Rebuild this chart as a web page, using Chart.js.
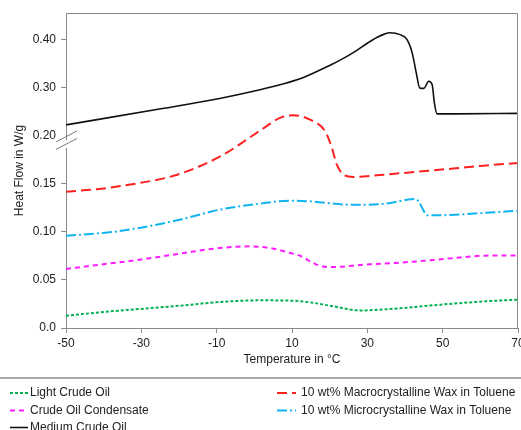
<!DOCTYPE html>
<html>
<head>
<meta charset="utf-8">
<script src="https://cdn.jsdelivr.net/npm/chart.js@4/dist/chart.umd.min.js"></script>
<style>
  html, body { margin: 0; padding: 0; background: #fff; }
  #wrap { width: 521px; height: 430px; position: relative; }
</style>
</head>
<body>
<div id="wrap"><canvas id="c" width="521" height="430"></canvas></div>
<script>
// DSC heat-flow curves (W/g) versus temperature (°C)
const lightT  = [-50, -41.1, -30.5, -19.8, -9.2, 1.5, 10.3, 14.8, 20.1, 28.1, 36.1, 49.4, 60.9, 70];
const lightHF = [0.0128, 0.0163, 0.0198, 0.0232, 0.0271, 0.0288, 0.0284, 0.0267, 0.0232, 0.0183, 0.0198, 0.0243, 0.0277, 0.0295];

const condT  = [-50, -41.1, -30.5, -19.8, -9.2, -1.2, 4.1, 9.5, 12.1, 14.8, 17.4, 20.1, 30.7, 41.4, 52.0, 60.9, 70];
const condHF = [0.0615, 0.0659, 0.0711, 0.0774, 0.0833, 0.0850, 0.0833, 0.0781, 0.0753, 0.0694, 0.0649, 0.0635, 0.0663, 0.0688, 0.0725, 0.0753, 0.0756];

const mediumT  = [-50, -25.2, -9.2, 1.5, 8.0, 12.1, 16.0, 20.1, 24.0, 27.0, 30.0, 32.5, 34.5, 36.0, 38.7, 40.5, 41.9, 43.0, 43.9, 45.0, 46.3, 47.2, 47.8, 48.5, 53.8, 70];
const mediumHF = [0.223, 0.256, 0.278, 0.296, 0.309, 0.319, 0.332, 0.347, 0.363, 0.377, 0.393, 0.405, 0.412, 0.415, 0.411, 0.401, 0.373, 0.331, 0.300, 0.299, 0.314, 0.307, 0.269, 0.246, 0.246, 0.247];

const macroT  = [-50, -41.1, -30.5, -22.5, -14.5, -7.4, -2.1, 3.2, 6.8, 10.3, 14.8, 18.8, 20.6, 21.9, 23.7, 26.3, 34.3, 47.6, 60.9, 70];
const macroHF = [0.142, 0.1448, 0.151, 0.1573, 0.1684, 0.1823, 0.196, 0.220, 0.2376, 0.243, 0.234, 0.2096, 0.1875, 0.170, 0.1597, 0.1573, 0.1597, 0.1642, 0.169, 0.1719];

const microT  = [-50, -38.5, -30.5, -19.8, -9.2, 1.5, 9.5, 14.8, 25.4, 29.9, 36.1, 40.5, 42.3, 43.6, 44.8, 45.8, 52.0, 60.9, 70];
const microHF = [0.0961, 0.0996, 0.1042, 0.1128, 0.1232, 0.1295, 0.1326, 0.1319, 0.1284, 0.1284, 0.1302, 0.1336, 0.1344, 0.1319, 0.1232, 0.1173, 0.1177, 0.1198, 0.1222];

const xTicks = [-50, -30, -10, 10, 30, 50, 70];
const yTickLabels = ['0.0', '0.05', '0.10', '0.15', '0.20', '0.30', '0.40'];

// Broken value axis: above 0.20 W/g the scale is compressed by half
const BREAK = 0.20;
const toAxis = v => v <= BREAK ? v : BREAK + (v - BREAK) / 2;
const pts = (T, V) => T.map((t, i) => ({ x: t, y: toAxis(V[i]) }));

const FONT = "'Liberation Sans', Arial, sans-serif";

const series = [
  { label: 'Light Crude Oil', data: pts(lightT, lightHF), borderColor: '#00b050', borderDash: [3, 2], borderWidth: 2 },
  { label: 'Crude Oil Condensate', data: pts(condT, condHF), borderColor: '#ff1cff', borderDash: [5, 4], borderWidth: 2 },
  { label: 'Medium Crude Oil', data: pts(mediumT, mediumHF), borderColor: '#111', borderDash: [], borderWidth: 1.6 },
  { label: '10 wt% Macrocrystalline Wax in Toluene', data: pts(macroT, macroHF), borderColor: '#ff2020', borderDash: [10, 5], borderWidth: 2 },
  { label: '10 wt% Microcrystalline Wax in Toluene', data: pts(microT, microHF), borderColor: '#12b4ef', borderDash: [10, 3, 2, 3], borderWidth: 2 }
];

const extras = {
  id: 'extras',
  afterDraw(chart) {
    const ctx = chart.ctx;
    const a = chart.chartArea;
    const ys = chart.scales.y;
    ctx.save();
    // top and right frame
    ctx.strokeStyle = '#8a8a8a';
    ctx.lineWidth = 1;
    ctx.beginPath();
    ctx.moveTo(a.left, a.top + 0.5);
    ctx.lineTo(a.right - 0.5, a.top + 0.5);
    ctx.lineTo(a.right - 0.5, a.bottom);
    ctx.stroke();

    // axis break marks at 0.20
    const by = ys.getPixelForValue(BREAK);
    const cx = a.left;
    ctx.fillStyle = '#fff';
    ctx.beginPath();
    ctx.moveTo(cx - 3, by + 6.5);
    ctx.lineTo(cx + 3, by + 3);
    ctx.lineTo(cx + 3, by + 10.5);
    ctx.lineTo(cx - 3, by + 14);
    ctx.closePath();
    ctx.fill();
    ctx.strokeStyle = '#7a7a7a';
    ctx.lineWidth = 1;
    ctx.beginPath();
    ctx.moveTo(cx - 10, by + 6);
    ctx.lineTo(cx + 11, by - 5);
    ctx.moveTo(cx - 10, by + 13.5);
    ctx.lineTo(cx + 11, by + 2.5);
    ctx.stroke();

    // axis titles
    ctx.fillStyle = '#222';
    ctx.font = '12px ' + FONT;
    ctx.textAlign = 'center';
    ctx.textBaseline = 'middle';
    ctx.fillText('Temperature in °C', (a.left + a.right) / 2, 360);
    ctx.save();
    ctx.translate(20, (a.top + a.bottom) / 2);
    ctx.rotate(-Math.PI / 2);
    ctx.fillText('Heat Flow in W/g', 0, 0);
    ctx.restore();

    // legend separator
    ctx.strokeStyle = '#8a8a8a';
    ctx.lineWidth = 1.5;
    ctx.beginPath();
    ctx.moveTo(0, 378);
    ctx.lineTo(chart.width, 378);
    ctx.stroke();

    // legend, two columns filled top to bottom
    const rows = [393, 410.5, 427.5];
    const cols = [{ x0: 10, x1: 28, tx: 30 }, { x0: 277, x1: 296, tx: 301 }];
    chart.data.datasets.forEach((ds, i) => {
      const col = cols[Math.floor(i / 3)];
      const y = rows[i % 3];
      ctx.strokeStyle = ds.borderColor;
      ctx.lineWidth = ds.borderWidth;
      ctx.setLineDash(ds.borderDash);
      ctx.beginPath();
      ctx.moveTo(col.x0, y);
      ctx.lineTo(col.x1, y);
      ctx.stroke();
      ctx.setLineDash([]);
      ctx.fillStyle = '#222';
      ctx.textAlign = 'left';
      ctx.fillText(ds.label, col.tx, y);
    });
    ctx.restore();
  }
};

new Chart(document.getElementById('c'), {
  type: 'line',
  data: {
    datasets: series.map(s => Object.assign({
      fill: false,
      pointRadius: 0,
      cubicInterpolationMode: 'monotone',
      borderCapStyle: 'butt'
    }, s))
  },
  options: {
    responsive: false,
    animation: false,
    events: [],
    layout: { padding: { left: 0, right: 3, top: 13, bottom: 0 } },
    plugins: { legend: { display: false }, tooltip: { enabled: false } },
    scales: {
      x: {
        type: 'linear',
        min: -50, max: 70,
        afterBuildTicks(scale) { scale.ticks = xTicks.map(v => ({ value: v })); },
        afterFit(scale) { scale.height = 102; scale.paddingLeft = 0; scale.paddingRight = 0; },
        border: { display: true, color: '#8a8a8a', width: 1 },
        grid: { drawOnChartArea: false, drawTicks: true, tickLength: 5, color: '#8a8a8a' },
        ticks: { color: '#222', font: { family: FONT, size: 12 }, padding: 3, maxRotation: 0, autoSkip: false }
      },
      y: {
        type: 'linear',
        min: 0, max: 0.328,
        afterBuildTicks(scale) { scale.ticks = yTickLabels.map((t, i) => ({ value: i * 0.05 })); },
        afterFit(scale) { scale.width = 66; scale.paddingTop = 0; scale.paddingBottom = 0; },
        border: { display: true, color: '#8a8a8a', width: 1 },
        grid: {
          drawOnChartArea: false, drawTicks: true, tickLength: 5,
          color: ctx => (ctx.tick && Math.abs(ctx.tick.value - BREAK) < 1e-6) ? 'rgba(0,0,0,0)' : '#8a8a8a'
        },
        ticks: {
          color: '#222', font: { family: FONT, size: 12 }, padding: 5, autoSkip: false,
          callback: (v, i) => yTickLabels[i]
        }
      }
    }
  },
  plugins: [extras]
});
</script>
</body>
</html>
